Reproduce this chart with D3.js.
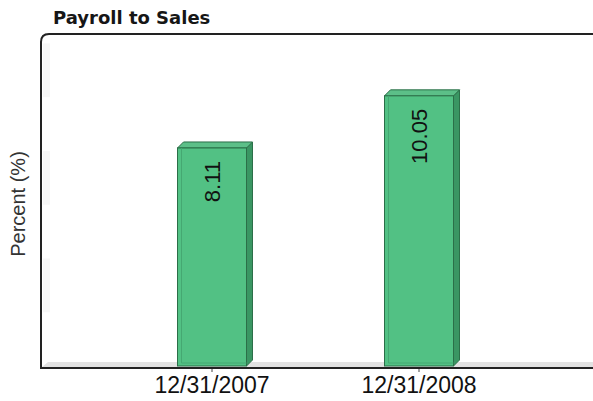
<!DOCTYPE html>
<html>
<head>
<meta charset="utf-8">
<script src="https://cdn.jsdelivr.net/npm/d3@7"></script>
<style>
  body { margin: 0; background: #fff; }
  svg { display: block; }
</style>
</head>
<body>
<script>
var categories = ["12/31/2007", "12/31/2008"];
var values = [8.11, 10.05];
var labels = ["8.11", "10.05"];
var stripeTicks = [12, 10, 8, 6, 4, 2]; // faint wall stripes, in pairs

var w = 593;
var h = 401;
var plotLeft = 41, plotTop = 34, plotBottom = 368, plotRight = 593;
var depth = 6;

var svg = d3.select("body")
  .append("svg")
  .attr("width", w)
  .attr("height", h);

var x = d3.scaleBand()
  .domain(categories)
  .range([108.5, 522.5]);

var y = d3.scaleLinear()
  .domain([0, 12.35])
  .range([366, plotTop]);

var barW = x.bandwidth() / 3;

// title
svg.append("text")
  .attr("x", 53)
  .attr("y", 24)
  .attr("font-family", "DejaVu Sans, Verdana, sans-serif")
  .attr("font-weight", "bold")
  .attr("font-size", 18)
  .attr("fill", "#161616")
  .text("Payroll to Sales");

// faint stripes on left wall
for (var i = 0; i < stripeTicks.length; i += 2) {
  svg.append("rect")
    .attr("x", plotLeft + 2)
    .attr("y", y(stripeTicks[i]))
    .attr("width", 7)
    .attr("height", y(stripeTicks[i + 1]) - y(stripeTicks[i]))
    .attr("fill", "#f7f7f7");
}

// floor
svg.append("path")
  .attr("d", "M" + (plotLeft + 1) + "," + (plotBottom - 1) + "L" + (plotLeft + depth + 1) + "," + (plotBottom - depth)
    + "L" + plotRight + "," + (plotBottom - depth) + "L" + plotRight + "," + (plotBottom - 1) + "Z")
  .attr("fill", "#e2e2e2");

// frame (left + top with rounded corner)
svg.append("path")
  .attr("d", "M" + plotLeft + "," + plotBottom + "L" + plotLeft + "," + (plotTop + 8)
    + "Q" + plotLeft + "," + plotTop + " " + (plotLeft + 8) + "," + plotTop + "L" + plotRight + "," + plotTop)
  .attr("fill", "none")
  .attr("stroke", "#222")
  .attr("stroke-width", 2);

// bars
var bars = svg.selectAll("g.bar")
  .data(values)
  .enter()
  .append("g")
  .attr("class", "bar");

// side face
bars.append("path")
  .attr("d", function (d, i) {
    var x1 = x(categories[i]) + x.bandwidth() / 2 + barW / 2;
    return "M" + x1 + "," + y(d) + "L" + (x1 + depth) + "," + (y(d) - depth)
      + "L" + (x1 + depth) + "," + (y(0) - depth) + "L" + x1 + "," + y(0) + "Z";
  })
  .attr("fill", "#3a9663")
  .attr("stroke", "#2b6f48")
  .attr("stroke-width", 1);

// top face
bars.append("path")
  .attr("d", function (d, i) {
    var x0 = x(categories[i]) + x.bandwidth() / 2 - barW / 2;
    return "M" + x0 + "," + y(d) + "L" + (x0 + depth) + "," + (y(d) - depth)
      + "L" + (x0 + barW + depth) + "," + (y(d) - depth) + "L" + (x0 + barW) + "," + y(d) + "Z";
  })
  .attr("fill", "#5cbf88")
  .attr("stroke", "#2b6f48")
  .attr("stroke-width", 1);

// front face
bars.append("rect")
  .attr("x", function (d, i) { return x(categories[i]) + x.bandwidth() / 2 - barW / 2; })
  .attr("y", function (d) { return y(d); })
  .attr("width", barW)
  .attr("height", function (d) { return y(0) - y(d); })
  .attr("fill", "#52c184")
  .attr("stroke", "#2b6f48")
  .attr("stroke-width", 1);

// inner lines of front face
bars.append("path")
  .attr("d", function (d, i) {
    var x0 = x(categories[i]) + x.bandwidth() / 2 - barW / 2;
    return "M" + (x0 + 4) + "," + y(d) + "L" + (x0 + 4) + "," + (y(0) - 3)
      + "L" + (x0 + barW) + "," + (y(0) - 3);
  })
  .attr("fill", "none")
  .attr("stroke", "#45a872")
  .attr("stroke-width", 1);

// value labels
bars.append("text")
  .attr("transform", function (d, i) {
    var cx = x(categories[i]) + x.bandwidth() / 2;
    return "translate(" + (cx + 8) + "," + (y(d) + 13) + ") rotate(-90)";
  })
  .attr("text-anchor", "end")
  .attr("font-family", "Liberation Sans, Arial, sans-serif")
  .attr("font-size", 22)
  .attr("fill", "#111")
  .text(function (d, i) { return labels[i]; });

// bottom axis
var xAxis = d3.axisBottom(x).tickSize(4).tickPadding(5);
var gx = svg.append("g")
  .attr("transform", "translate(0," + plotBottom + ")")
  .call(xAxis);
gx.select(".domain").remove();
gx.selectAll(".tick line").attr("stroke", "#444");
gx.selectAll(".tick text")
  .attr("font-family", "Liberation Sans, Arial, sans-serif")
  .attr("font-size", 23)
  .attr("fill", "#111");

svg.append("line")
  .attr("x1", plotLeft - 1)
  .attr("x2", plotRight)
  .attr("y1", plotBottom)
  .attr("y2", plotBottom)
  .attr("stroke", "#222")
  .attr("stroke-width", 2);

// y label
svg.append("text")
  .attr("transform", "translate(25,204) rotate(-90)")
  .attr("text-anchor", "middle")
  .attr("font-family", "Liberation Sans, Arial, sans-serif")
  .attr("font-size", 20)
  .attr("fill", "#333")
  .text("Percent (%)");
</script>
</body>
</html>
